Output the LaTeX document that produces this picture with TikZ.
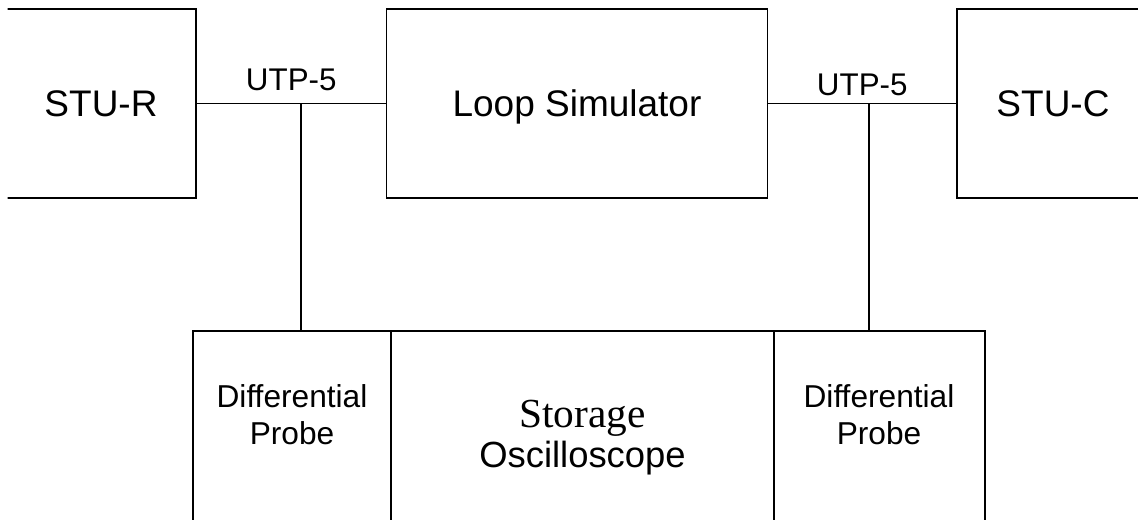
\documentclass[tikz,border=0pt]{standalone}
\usepackage{fontspec}
\setmainfont{Liberation Sans}[Ligatures=NoCommon]
\newfontfamily\tnr{Liberation Serif}
\usetikzlibrary{positioning}
\tikzset{
  box/.style={draw, line width=1.3pt, inner sep=0pt},
  wire/.style={line width=1.3pt},
  big/.style={font=\fontsize{27.75pt}{33pt}\selectfont, text depth=0pt},
  cable/.style={font=\fontsize{23.5pt}{28pt}\selectfont},
  probetext/.style={font=\fontsize{23.75pt}{27.75pt}\selectfont, align=center},
}
\begin{document}
\begin{tikzpicture}[x=0.75pt,y=-0.75pt]
  \useasboundingbox (0,0) rectangle (1138,520);
  \clip (7.5,0) rectangle (1138,520);
  % units and the loop
  \node[box,big,minimum width=142.5pt,minimum height=141.75pt] (stur) at (101,103.5) {STU-R};
  \node[box,big,minimum width=285.75pt,minimum height=141.75pt] (loop) at (577,103.5) {Loop Simulator};
  \node[box,big,minimum width=144pt,minimum height=141.75pt] (stuc) at (1053,103.5) {STU-C};
  % scope and probes (bottom runs off the page)
  \node[box,minimum width=148.5pt,minimum height=171.75pt] (probeL) at (291.7,445.5) {};
  \node[box,minimum width=287.25pt,minimum height=171.75pt] (scope) at (582.5,445.5) {};
  \node[box,minimum width=158.25pt,minimum height=171.75pt] (probeR) at (879.5,445.5) {};
  \node[probetext] (probeLtext) at (292,415) {Differential\\Probe};
  \node[align=center,font=\fontsize{27.3pt}{30pt}\selectfont] (scopetext) at (582.5,437.8)
    {{\tnr\fontsize{31pt}{30pt}\selectfont Storage}\\Oscilloscope};
  \node[probetext] (probeRtext) at (879,415) {Differential\\Probe};
  % cables
  \draw[wire] (stur.east) -- (loop.west) node[midway,above=5.5pt,cable] (utpL) {UTP-5};
  \draw[wire] (loop.east) -- (stuc.west) node[midway,above=2pt,cable] (utpR) {UTP-5};
  \coordinate (tapL) at (301,104);
  \coordinate (tapR) at (868.7,104);
  \draw[wire] (tapL) -- (tapL |- probeL.north);
  \draw[wire] (tapR) -- (tapR |- probeR.north);
\end{tikzpicture}
\end{document}
